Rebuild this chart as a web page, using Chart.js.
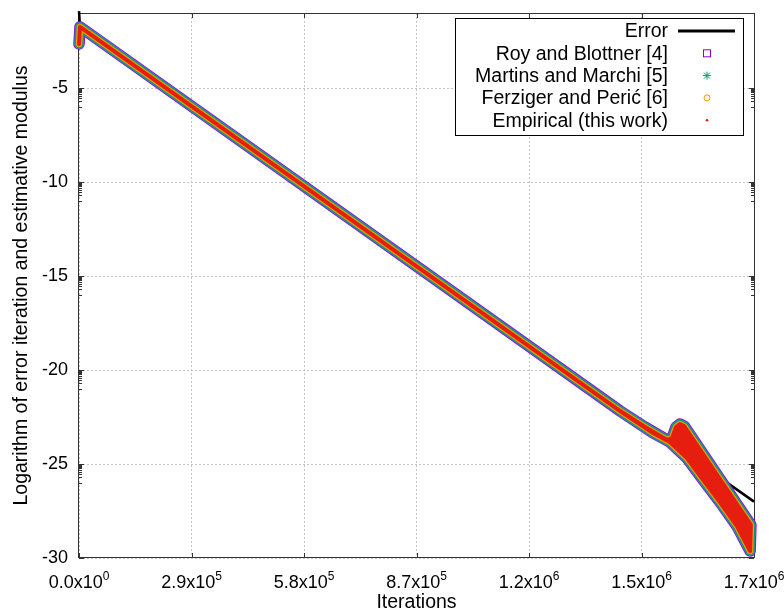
<!DOCTYPE html>
<html lang="en">
<head>
<meta charset="utf-8">
<title>Error iteration and estimative modulus</title>
<script src="https://cdn.jsdelivr.net/npm/chart.js@4.4.0/dist/chart.umd.min.js"></script>
<style>
  body { margin: 0; background: #fff; }
</style>
</head>
<body>
<canvas id="chart" width="784" height="612"></canvas>
<script>
// axis ranges (iterations, log of modulus)
const xMax = 1740000;
const xStep = 290000;
const yMin = -30, yMax = -1, yStep = 5;

// Error curve
const errorIter = [0, 2600, 1740000];
const errorLog  = [-0.9, -1.74, -27.0];

// estimates: upper side of the band, then lower side
const upperIter = [0, 2600, 1395000, 1459000, 1516000, 1529000, 1539000, 1549000, 1560000, 1732000];
const upperLog  = [-2.65, -1.74, -22.18, -23.03, -23.72, -23.61, -23.03, -22.87, -22.98, -28.24];
const lowerIter = [2600, 1395000, 1480000, 1523000, 1567000, 1609000, 1652000, 1696000, 1730000];
const lowerLog  = [-1.74, -22.18, -23.35, -23.83, -24.68, -25.85, -27.02, -28.30, -29.63];

const FONT = '"Liberation Sans", Arial, sans-serif';

function pts(xs, ys) {
  return xs.map((v, i) => ({x: v, y: ys[i]}));
}
// closed outline: go along the upper side, come back along the lower side
const bandPts = pts(upperIter, upperLog).concat(pts(lowerIter, lowerLog).reverse());

function band(label, color, width, order, marker) {
  return {
    label: label,
    data: bandPts,
    showLine: true,
    borderColor: color,
    backgroundColor: color,
    borderWidth: width,
    borderJoinStyle: 'round',
    borderCapStyle: 'round',
    fill: 'shape',
    pointRadius: 0,
    clip: false,
    order: order,
    marker: marker
  };
}

const datasets = [
  {
    label: 'Error',
    data: pts(errorIter, errorLog),
    showLine: true,
    borderColor: '#000',
    borderWidth: 2.5,
    pointRadius: 0,
    clip: false,
    order: 9,
    marker: 'line'
  },
  band('Roy and Blottner [4]', '#9400d3', 11.5, 6, 'square'),
  band('', '#3a7fc4', 10, 5, null),
  band('Martins and Marchi [5]', '#009e73', 8.5, 4, 'star'),
  band('Ferziger and Perić [6]', '#e69f00', 6.5, 3, 'circle'),
  band('Empirical (this work)', '#e51e10', 4, 2, 'dot')
];

// frame + inward tics like gnuplot
const framePlugin = {
  id: 'frame',
  beforeDatasetsDraw(chart) {
    const {ctx, chartArea: a, scales: {x, y}} = chart;
    ctx.save();
    ctx.strokeStyle = '#333';
    ctx.lineWidth = 1;
    ctx.strokeRect(Math.round(a.left) - 0.5, Math.round(a.top) + 0.5,
      Math.round(a.right - a.left) + 1, Math.round(a.bottom - a.top) - 1);
    ctx.beginPath();
    x.ticks.forEach(t => {
      const px = Math.round(x.getPixelForValue(t.value)) + 0.5;
      ctx.moveTo(px, a.bottom); ctx.lineTo(px, a.bottom - 5);
      ctx.moveTo(px, a.top); ctx.lineTo(px, a.top + 5);
    });
    y.ticks.forEach(t => {
      for (let k = 1; k <= 10; k++) {
        const v = t.value - 1 + Math.log10(k);
        if (v < yMin || v > yMax) continue;
        const len = k === 10 ? 5 : 3;
        const py = Math.round(y.getPixelForValue(v)) + 0.5;
        ctx.moveTo(a.left, py); ctx.lineTo(a.left + len, py);
        ctx.moveTo(a.right, py); ctx.lineTo(a.right - len, py);
      }
    });
    ctx.stroke();
    ctx.restore();
  },
  afterDraw(chart) {
    const {ctx, scales: {x}} = chart;
    ctx.save();
    ctx.fillStyle = '#000';
    ctx.textAlign = 'left';
    ctx.textBaseline = 'alphabetic';
    // x tick labels as  m.m x 10^e
    x.ticks.forEach(t => {
      const px = x.getPixelForValue(t.value);
      const parts = t.value.toExponential(1).split('e');
      const base = parts[0] + 'x10';
      const exp = String(Number(parts[1]));
      ctx.font = '18px ' + FONT;
      const wb = ctx.measureText(base).width;
      ctx.font = '12px ' + FONT;
      const we = ctx.measureText(exp).width;
      const sx = px - (wb + we) / 2;
      ctx.font = '18px ' + FONT;
      ctx.fillText(base, sx, 588);
      ctx.font = '12px ' + FONT;
      ctx.fillText(exp, sx + wb, 580);
    });

    // key box, top right
    ctx.fillStyle = '#fff';
    ctx.fillRect(455, 18, 288, 117);
    ctx.strokeStyle = '#000';
    ctx.lineWidth = 1;
    ctx.strokeRect(455.5, 18.5, 288, 117);
    ctx.font = '19.5px ' + FONT;
    ctx.textAlign = 'right';
    ctx.textBaseline = 'middle';
    let row = 0;
    chart.data.datasets.forEach(ds => {
      if (!ds.label) return;
      const ry = 31 + row * 22.3;
      row++;
      ctx.fillStyle = '#000';
      ctx.fillText(ds.label, 668, ry + 1);
      const mx = 707;
      ctx.strokeStyle = ds.borderColor;
      ctx.fillStyle = ds.borderColor;
      ctx.lineWidth = 1;
      if (ds.marker === 'line') {
        ctx.lineWidth = 3;
        ctx.beginPath(); ctx.moveTo(678, ry); ctx.lineTo(735, ry); ctx.stroke();
      } else if (ds.marker === 'square') {
        ctx.strokeRect(mx - 3.5, ry - 3.5, 7, 7);
      } else if (ds.marker === 'star') {
        ctx.beginPath();
        ctx.moveTo(mx - 4, ry); ctx.lineTo(mx + 4, ry);
        ctx.moveTo(mx, ry - 4); ctx.lineTo(mx, ry + 4);
        ctx.moveTo(mx - 3, ry - 3); ctx.lineTo(mx + 3, ry + 3);
        ctx.moveTo(mx - 3, ry + 3); ctx.lineTo(mx + 3, ry - 3);
        ctx.stroke();
      } else if (ds.marker === 'circle') {
        ctx.beginPath(); ctx.arc(mx, ry, 3, 0, Math.PI * 2); ctx.stroke();
      } else if (ds.marker === 'dot') {
        ctx.beginPath(); ctx.arc(mx, ry, 1.3, 0, Math.PI * 2); ctx.fill();
      }
    });
    ctx.restore();
  }
};

new Chart(document.getElementById('chart'), {
  type: 'scatter',
  data: { datasets: datasets },
  options: {
    responsive: false,
    animation: false,
    devicePixelRatio: 1,
    layout: { padding: { top: 13, right: 30, left: 0, bottom: 0 } },
    plugins: {
      legend: { display: false },
      tooltip: { enabled: false }
    },
    scales: {
      x: {
        type: 'linear',
        min: 0,
        max: xMax,
        afterFit(s) { s.height = 54; s.paddingLeft = 0; s.paddingRight = 0; },
        ticks: { stepSize: xStep, display: false },
        grid: { color: '#c4c4c4', lineWidth: 1, drawTicks: false },
        border: { display: false, dash: [2, 2] },
        title: {
          display: true,
          text: 'Iterations',
          color: '#000',
          font: { family: FONT, size: 19.5, lineHeight: 1 },
          padding: { top: 0, bottom: 0 }
        }
      },
      y: {
        type: 'linear',
        min: yMin,
        max: yMax,
        afterFit(s) { s.width = 79; s.paddingTop = 0; s.paddingBottom = 0; },
        afterBuildTicks(s) { s.ticks = s.ticks.filter(t => t.value % yStep === 0); },
        ticks: {
          stepSize: yStep,
          color: '#000',
          padding: 11,
          font: { family: FONT, size: 18 }
        },
        grid: { color: '#c4c4c4', lineWidth: 1, drawTicks: false },
        border: { display: false, dash: [2, 2] },
        title: {
          display: true,
          text: 'Logarithm of error iteration and estimative modulus',
          color: '#000',
          font: { family: FONT, size: 19.5, lineHeight: 1 },
          padding: { top: 12, bottom: 0 }
        }
      }
    }
  },
  plugins: [framePlugin]
});
</script>
</body>
</html>
